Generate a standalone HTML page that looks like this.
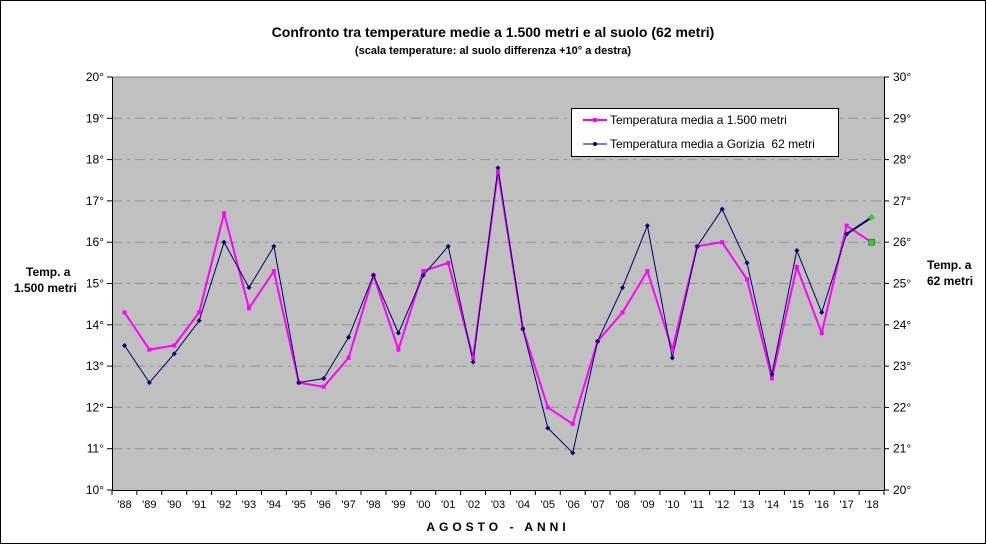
<!DOCTYPE html>
<html><head><meta charset="utf-8"><style>
html,body{margin:0;padding:0;background:#fff;}
svg{display:block;font-family:"Liberation Sans",Arial,sans-serif;}
</style></head><body>
<svg id="s" width="987" height="545" viewBox="0 0 987 545" xmlns="http://www.w3.org/2000/svg">
<rect x="0.5" y="0.5" width="985" height="543" fill="#fff" stroke="#000"/>
<rect x="112" y="77" width="772" height="413" fill="#c0c0c0"/>
<text x="493" y="37" text-anchor="middle" font-size="14" font-weight="bold">Confronto tra temperature medie a 1.500 metri e al suolo (62 metri)</text>
<text x="493" y="54" text-anchor="middle" font-size="11" font-weight="bold">(scala temperature: al suolo differenza +10° a destra)</text>
<text x="26" y="276" font-size="12" font-weight="bold">Temp. a</text>
<text x="14" y="292" font-size="12" font-weight="bold">1.500 metri</text>
<text x="927" y="269" font-size="12" font-weight="bold">Temp. a</text>
<text x="927" y="285" font-size="12" font-weight="bold">62 metri</text>
<text x="498" y="531" text-anchor="middle" font-size="12" font-weight="bold" letter-spacing="4">AGOSTO - ANNI</text>
<g id="g"></g>
<rect x="571.5" y="108.5" width="267" height="48" fill="#fff" stroke="#000"/>
<line x1="583" y1="120" x2="607" y2="120" stroke="#ff00ff" stroke-width="2"/>
<rect x="593" y="118" width="4" height="4" fill="#ff00ff"/>
<text x="610" y="124" font-size="12">Temperatura media a 1.500 metri</text>
<line x1="583" y1="144" x2="607" y2="144" stroke="#000066" stroke-width="1"/>
<circle cx="595" cy="144" r="2" fill="#000066"/>
<text x="610" y="148" font-size="12">Temperatura media a Gorizia &#160;62 metri</text>
</svg>
<script>
var g=document.getElementById('g'),h='';
function Y(v){return 77+(20-v)*41.3;}
for(var v=10;v<=20;v++){var y=Y(v);
 if(v>10&&v<20)h+='<line x1="112" x2="884" y1="'+y+'" y2="'+y+'" stroke="#929292" stroke-dasharray="10,5,3,5"/>';
 h+='<line x1="107" x2="112" y1="'+y+'" y2="'+y+'" stroke="#000"/><line x1="884" x2="889" y1="'+y+'" y2="'+y+'" stroke="#000"/>';
 h+='<text x="104" y="'+(y+4)+'" font-size="12" text-anchor="end">'+v+'°</text>';
 h+='<text x="893" y="'+(y+4)+'" font-size="12">'+(v+10)+'°</text>';}
h+='<line x1="112" y1="77" x2="884" y2="77" stroke="#808080"/>';
h+='<line x1="112.5" y1="77" x2="112.5" y2="490" stroke="#000"/><line x1="884.5" y1="77" x2="884.5" y2="490" stroke="#000"/><line x1="112" y1="490.5" x2="884" y2="490.5" stroke="#000"/>';
var w=772/31;
for(var i=0;i<=31;i++){var x=112+i*w;h+='<line x1="'+x+'" x2="'+x+'" y1="490" y2="495" stroke="#000"/>';}
for(var i=0;i<31;i++){var yr=(88+i)%100;var s=("0"+yr).slice(-2);h+='<text x="'+(112+(i+0.5)*w)+'" y="508" font-size="11" text-anchor="middle">\''+s+'</text>';}
var p=[14.3,13.4,13.5,14.3,16.7,14.4,15.3,12.6,12.5,13.2,15.2,13.4,15.3,15.5,13.2,17.7,13.9,12.0,11.6,13.6,14.3,15.3,13.4,15.9,16.0,15.1,12.7,15.4,13.8,16.4,16.0];
var n=[13.5,12.6,13.3,14.1,16.0,14.9,15.9,12.6,12.7,13.7,15.2,13.8,15.2,15.9,13.1,17.8,13.9,11.5,10.9,13.6,14.9,16.4,13.2,15.9,16.8,15.5,12.8,15.8,14.3,16.2,16.6];
function pts(a,k){var r=[];for(var i=0;i<k;i++)r.push((112+(i+0.5)*w).toFixed(1)+','+Y(a[i]).toFixed(1));return r.join(' ');}
h+='<polyline points="'+pts(p,31)+'" fill="none" stroke="#ff00ff" stroke-width="2"/>';
h+='<polyline points="'+pts(n,31)+'" fill="none" stroke="#000066" stroke-width="1"/>';
h+='<line x1="'+(112+29.5*w)+'" y1="'+Y(16.2)+'" x2="'+(112+30.5*w)+'" y2="'+Y(16.6)+'" stroke="#000066" stroke-width="2"/>';
for(var i=0;i<31;i++){var x=112+(i+0.5)*w;
 if(i<30){h+='<rect x="'+(x-2)+'" y="'+(Y(p[i])-2)+'" width="4" height="4" fill="#ff00ff"/>';
 h+='<path d="M'+x+' '+(Y(n[i])-2.5)+'l2.5 2.5l-2.5 2.5l-2.5 -2.5z" fill="#000066"/>';}
 else{h+='<rect x="'+(x-3)+'" y="'+(Y(p[i])-3)+'" width="6" height="6" fill="#33cc33" stroke="#006600" stroke-width="0.5"/>';
 h+='<path d="M'+x+' '+(Y(n[i])-3.5)+'l3.5 3.5l-3.5 3.5l-3.5 -3.5z" fill="#33cc33"/>';}}
g.innerHTML=h;
</script>
</body></html>
